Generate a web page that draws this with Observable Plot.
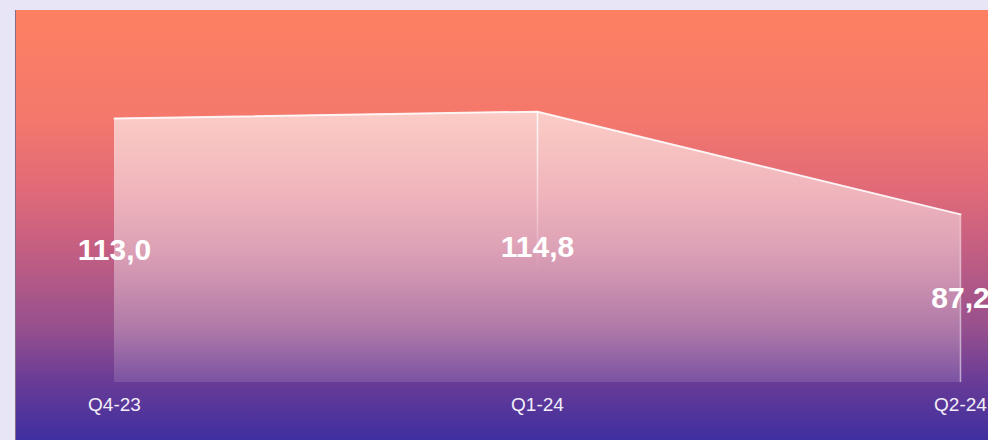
<!DOCTYPE html>
<html>
<head>
<meta charset="utf-8">
<script src="https://cdn.jsdelivr.net/npm/d3@7"></script>
<script src="https://cdn.jsdelivr.net/npm/@observablehq/plot@0.6"></script>
<style>
  html, body { margin: 0; padding: 0; background: #e7e5f6; width: 988px; height: 440px; overflow: hidden; }
  #wrap { position: relative; width: 988px; height: 440px; }
  #panel { position: absolute; left: 15px; top: 10px; right: 0; bottom: 0;
    border-left: 1px solid #8a6a8a;
    background: linear-gradient(to bottom, #fe8062 0%, #f4786c 25%, #e06a78 42%, #c35e82 56%, #96508e 74%, #6a3c96 86%, #3e2f9f 100%); }
  #chart { position: absolute; left: 0; top: 0; }
  svg { font-family: "Liberation Sans", Arial, sans-serif; }
</style>
</head>
<body>
<div id="wrap"><div id="panel"></div><div id="chart"></div></div>
<script>
const quarters = ["Q4-23", "Q1-24", "Q2-24"];
const values = [113.0, 114.8, 87.2];
const valueLabels = ["113,0", "114,8", "87,2"];
const yMin = 42, yMax = 142;

const data = quarters.map((q, i) => ({q, v: values[i], label: valueLabels[i]}));

const plot = Plot.plot({
  width: 988,
  height: 440,
  marginLeft: 113,
  marginRight: 28,
  marginTop: 10,
  marginBottom: 58,
  style: {background: "transparent", fontFamily: "'Liberation Sans', Arial, sans-serif", overflow: "visible"},
  x: {type: "point", domain: quarters, padding: 0, label: null},
  y: {domain: [yMin, yMax], axis: null},
  marks: [
    Plot.areaY(data, {x: "q", y1: yMin, y2: "v", fill: "url(#areaGrad)"}),
    Plot.ruleX(data.slice(1, 2), {x: "q", y1: yMin, y2: "v", stroke: "url(#fadeGrad)", strokeWidth: 1.5}),
    Plot.ruleX(data.slice(2), {x: "q", y1: yMin, y2: "v", stroke: "white", strokeOpacity: 0.55, strokeWidth: 1.5}),
    Plot.ruleY([yMin], {x1: quarters[0], x2: quarters[2], stroke: "#d8b4ec", strokeOpacity: 0.55, strokeWidth: 2}),
    Plot.line(data, {x: "q", y: "v", stroke: "white", strokeOpacity: 0.85, strokeWidth: 2}),
    Plot.text(data, {x: "q", y: d => (d.v + yMin) / 2, text: "label", fill: "white", fontSize: 30, fontWeight: "bold"}),
    Plot.axisX({tickSize: 0, tickPadding: 15, fontSize: 19, fill: "#f3eef8", label: null})
  ]
});

const y = plot.scale("y");
const svg = d3.select(plot);
const defs = svg.insert("defs", ":first-child");
const ag = defs.append("linearGradient").attr("id", "areaGrad")
  .attr("x1", 0).attr("y1", 0).attr("x2", 0).attr("y2", 1);
ag.append("stop").attr("offset", "0%").attr("stop-color", "white").attr("stop-opacity", 0.62);
ag.append("stop").attr("offset", "50%").attr("stop-color", "white").attr("stop-opacity", 0.42);
ag.append("stop").attr("offset", "100%").attr("stop-color", "white").attr("stop-opacity", 0.12);
const fg = defs.append("linearGradient").attr("id", "fadeGrad")
  .attr("gradientUnits", "userSpaceOnUse")
  .attr("x1", 0).attr("x2", 0)
  .attr("y1", y.apply(values[1])).attr("y2", y.apply(yMin + (values[1] - yMin) * 0.4));
fg.append("stop").attr("offset", "0%").attr("stop-color", "white").attr("stop-opacity", 0.95);
fg.append("stop").attr("offset", "100%").attr("stop-color", "white").attr("stop-opacity", 0);

document.getElementById("chart").appendChild(plot);
</script>
</body>
</html>
